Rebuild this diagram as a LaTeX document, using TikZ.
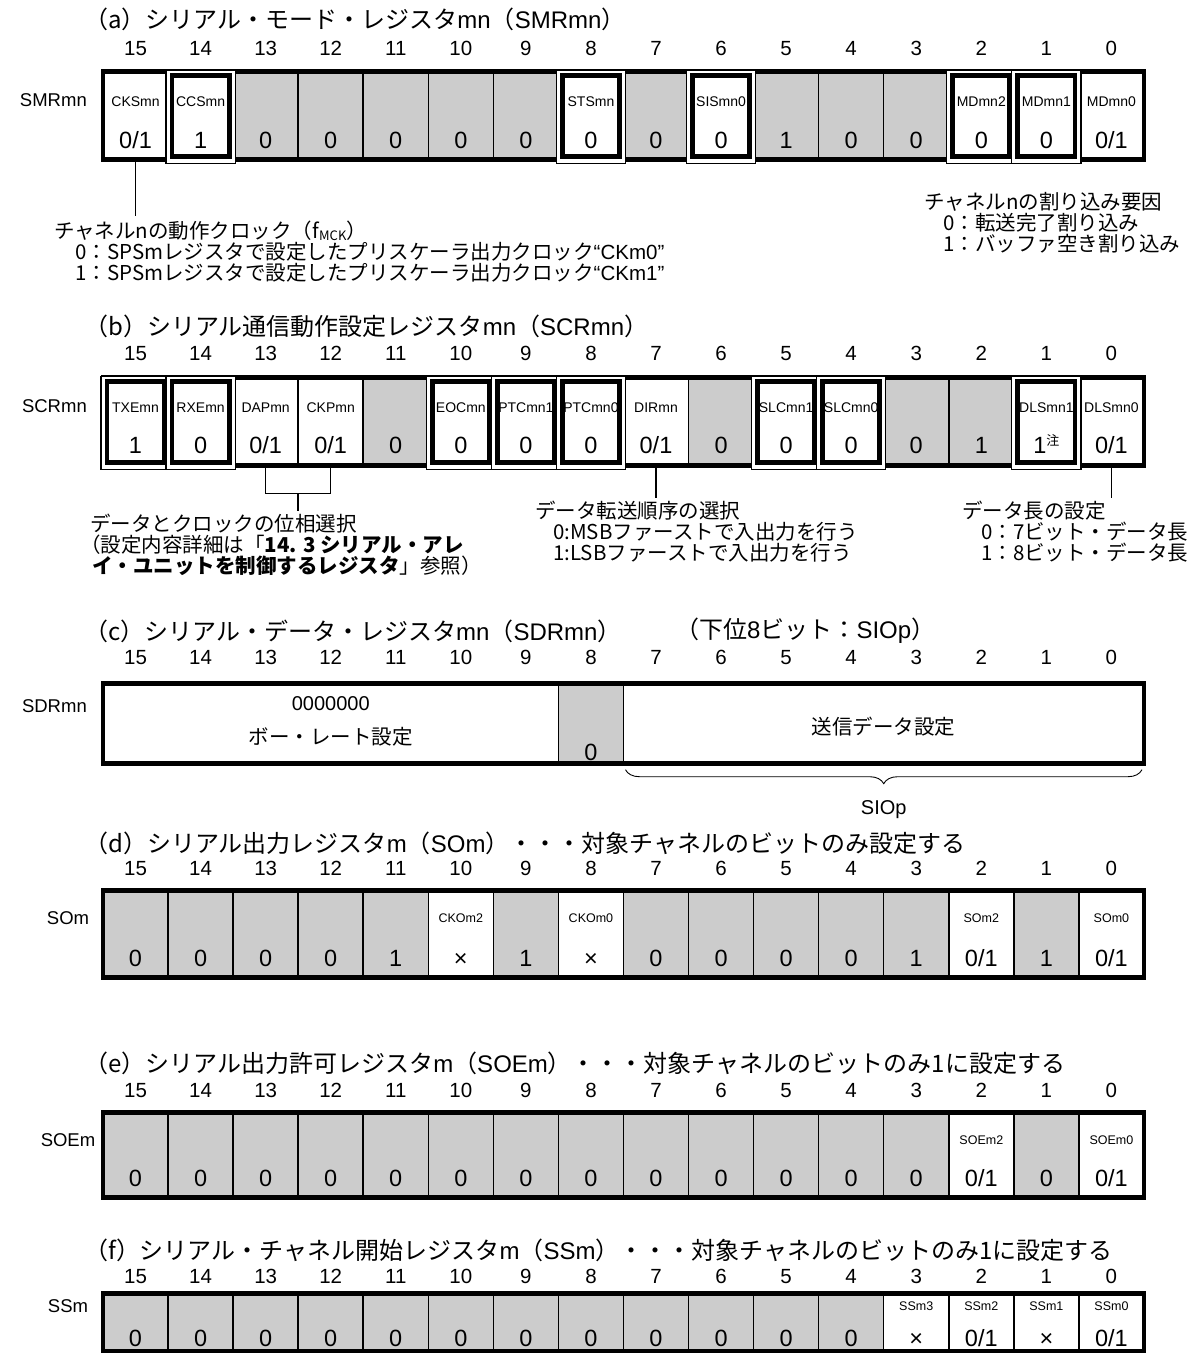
\documentclass[tikz,border=0pt]{standalone}
\usepackage{fontspec}
\setmainfont{Noto Sans CJK JP}
\newfontfamily\arialf{Liberation Sans}
\usetikzlibrary{positioning, calc, decorations.pathreplacing}
\definecolor{shade}{RGB}{204,204,204}
\pgfdeclarelayer{bg}
\pgfdeclarelayer{mid}
\pgfsetlayers{bg,mid,main}
\newcommand{\zo}{0/1}
\newcommand{\tms}{×}
\newcommand{\ltn}[1]{{\arialf #1}}
\newcommand{\onenote}{1\raisebox{8pt}{\rmfamily\fontsize{13}{13}\selectfont 注}}
% bit numbers above a register
\newcommand{\bitrow}[2]{%
  \foreach \bit in {0,...,15}
    \node[bitno] (n#1\bit) at ({103+(15.5-\bit)*65.06}, #2) {\bit};}
% one register: prefix, top, height, name style, name dy, value dy, cells
\newcommand{\regrow}[7]{%
  \pgfmathsetmacro\cellh{#3-4.6}
  \foreach \bit/\fc/\fx/\nm/\vl in {#7}{%
    \pgfmathsetmacro\xl{103+(15-\bit)*65.06}
    \begin{pgfonlayer}{bg}
      \node[regcell, fill=\fc, minimum height=\cellh pt] (#1\bit) at (\xl, #2+2.3) {};
    \end{pgfonlayer}
    \ifnum\fx=1\relax
      \begin{pgfonlayer}{mid}
        \draw[fixout] ($(#1\bit.north west)+(-2,-1)$) rectangle ($(#1\bit.south east)+(2,3.5)$);
        \draw[fixin] ($(#1\bit.north west)+(4,4.5)$) rectangle ($(#1\bit.south east)+(-4,-3)$);
      \end{pgfonlayer}
    \fi
    \node[#4] at ($(#1\bit.north)+(0,#5-2.3)$) {\nm};
    \node[val] at ($(#1\bit.north)+(0,#6-2.3)$) {\vl};
  }%
  \begin{pgfonlayer}{bg}
    \draw[regframe] (#115.north west) rectangle (#10.south east);
  \end{pgfonlayer}}

\begin{document}
\begin{tikzpicture}[x=1pt, y=-1pt,
  ttl/.style={anchor=west, inner sep=0pt, font=\fontsize{24}{28}\selectfont},
  note/.style={anchor=west, inner sep=0pt, font=\fontsize{20.5}{24}\selectfont},
  bitno/.style={inner sep=0pt, text height=14.7pt, text depth=0pt,
                font=\arialf\fontsize{20.5}{24}\selectfont},
  reglbl/.style={inner sep=0pt, text height=13.3pt, text depth=0pt,
                 font=\arialf\fontsize{18.5}{22}\selectfont},
  regcell/.style={draw, line width=1.5pt, minimum width=65.06pt, inner sep=0pt,
                  outer sep=0pt, anchor=north west},
  nm/.style={inner sep=0pt, text height=10.1pt, text depth=0pt,
             font=\arialf\fontsize{14}{17}\selectfont},
  nms/.style={inner sep=0pt, text height=9pt, text depth=0pt,
              font=\arialf\fontsize{12.5}{15}\selectfont},
  val/.style={inner sep=0pt, text height=16.8pt, text depth=0pt,
              font=\arialf\fontsize{23.5}{28}\selectfont},
  regframe/.style={line width=4.7pt},
  fixout/.style={fill=white, line width=1.2pt},
  fixin/.style={line width=4.8pt},
  lead/.style={line width=1.5pt},
  brc/.style={decorate, decoration={brace, mirror, amplitude=14pt}, line width=0.9pt}]

  \useasboundingbox (0,0) rectangle (1198,1353);

  % (a) SMRmn
  \node[ttl] (ttla) at (84,19) {（a）シリアル・モード・レジスタ\ltn{mn}（\ltn{SMRmn}）};
  \bitrow{a}{48}
  \node[reglbl, anchor=east] (smr) at (87,100) {SMRmn};
  \regrow{a}{69}{93}{nm}{32}{71}{15/white/0/CKSmn/\zo, 14/white/1/CCSmn/1,
    13/shade/0//0, 12/shade/0//0, 11/shade/0//0, 10/shade/0//0, 9/shade/0//0,
    8/white/1/STSmn/0, 7/shade/0//0, 6/white/1/SISmn0/0, 5/shade/0//1,
    4/shade/0//0, 3/shade/0//0, 2/white/1/MDmn2/0, 1/white/1/MDmn1/0,
    0/white/0/MDmn0/\zo}

  \node[note] (cks) at (54,231) {チャネルnの動作クロック（f\raisebox{-1.5pt}{\fontsize{13}{13}\selectfont MCK}）};
  \node[note] (cks0) at (75,252) {0：SPSmレジスタで設定したプリスケーラ出力クロック{\arialf “CKm0”}};
  \node[note] (cks1) at (75,273) {1：SPSmレジスタで設定したプリスケーラ出力クロック{\arialf “CKm1”}};
  \draw[lead] (a15.south) -- ($(a15.south |- cks.north)+(0,-5)$);

  \node[note] (mdi) at (924,202) {チャネルnの割り込み要因};
  \node[note] (mdi0) at (943,223) {0：転送完了割り込み};
  \node[note] (mdi1) at (943,244) {1：バッファ空き割り込み};

  % (b) SCRmn
  \node[ttl] (ttlb) at (84,326) {（b）シリアル通信動作設定レジスタ\ltn{mn}（\ltn{SCRmn}）};
  \bitrow{b}{353}
  \node[reglbl, anchor=east] (scr) at (87,406) {SCRmn};
  \regrow{b}{375}{93}{nm}{32}{70}{15/white/1/TXEmn/1, 14/white/1/RXEmn/0,
    13/white/0/DAPmn/\zo, 12/white/0/CKPmn/\zo, 11/shade/0//0,
    10/white/1/EOCmn/0, 9/white/1/PTCmn1/0, 8/white/1/PTCmn0/0,
    7/white/0/DIRmn/\zo, 6/shade/0//0, 5/white/1/SLCmn1/0, 4/white/1/SLCmn0/0,
    3/shade/0//0, 2/shade/0//1, 1/white/1/DLSmn1/\onenote, 0/white/0/DLSmn0/\zo}

  \node[note] (dap) at (90,524) {データとクロックの位相選択};
  \node[note] (dap1) at (80,545) {（設定内容詳細は「\textbf{14. 3 シリアル・アレ}};
  \node[note] (dap2) at (92,566) {\textbf{イ・ユニットを制御するレジスタ}」参照）};
  \coordinate (phsel) at ($(b13.south)!0.5!(b12.south)+(0,28)$);
  \draw[lead] (b13.south) |- (phsel) -| (b12.south);
  \draw[lead] (phsel) -- ($(phsel |- dap.north)+(0,-3)$);

  \node[note] (dir) at (535,511) {データ転送順序の選択};
  \node[note] (dir0) at (553,532) {0:MSBファーストで入出力を行う};
  \node[note] (dir1) at (553,553) {1:LSBファーストで入出力を行う};
  \draw[lead] (b7.south) -- ($(b7.south |- dir.north)+(0,-3)$);

  \node[note] (dls) at (962,511) {データ長の設定};
  \node[note] (dls0) at (981,532) {0：7ビット・データ長};
  \node[note] (dls1) at (981,553) {1：8ビット・データ長};
  \draw[lead] (b0.south) -- ($(b0.south |- dls.north)+(0,-3)$);

  % (c) SDRmn
  \node[ttl] (ttlc) at (84,631) {（c）シリアル・データ・レジスタ\ltn{mn}（\ltn{SDRmn}）};
  \node[ttl] (ttlc2) at (675,631) {（下位\ltn{8}ビット：\ltn{SIOp}）};
  \bitrow{c}{657}
  \node[reglbl, anchor=east] (sdr) at (87,706) {SDRmn};
  \begin{pgfonlayer}{bg}
    \node[regcell, fill=white, minimum width=455.42pt, minimum height=80.4pt] (cbaud) at (103,683.3) {};
    \node[regcell, fill=shade, minimum height=80.4pt] (c8) at (558.42,683.3) {};
    \node[regcell, fill=white, minimum width=520.48pt, minimum height=80.4pt] (cdata) at (623.48,683.3) {};
    \draw[regframe] (cbaud.north west) rectangle (cdata.south east);
  \end{pgfonlayer}
  \node[reglbl, text height=14.3pt, font=\arialf\fontsize{20}{24}\selectfont] (baudv) at ($(cbaud.center)+(0,-20)$) {0000000};
  \node[note, anchor=center] (baud) at ($(cbaud.center)+(0,13)$) {ボー・レート設定};
  \node[val] (c8v) at ($(c8.north)+(0,68.7)$) {0};
  \node[note, anchor=center] (txd) at ($(cdata.center)+(0,3)$) {送信データ設定};
  \draw[brc] ($(cdata.south west)+(2,6)$) -- ($(cdata.south east)+(-2,6)$);
  \node[reglbl, text height=14.3pt, font=\arialf\fontsize{20}{24}\selectfont] (siop) at ($(cdata.south)+(0,44)$) {SIOp};

  % (d) SOm
  \node[ttl] (ttld) at (84,843) {（d）シリアル出力レジスタ\ltn{m}（\ltn{SOm}）・・・対象チャネルのビットのみ設定する};
  \bitrow{d}{868}
  \node[reglbl] (som) at (68,918) {SOm};
  \regrow{d}{888}{92}{nms}{30}{70}{15/shade/0//0, 14/shade/0//0, 13/shade/0//0,
    12/shade/0//0, 11/shade/0//1, 10/white/0/CKOm2/\tms, 9/shade/0//1,
    8/white/0/CKOm0/\tms, 7/shade/0//0, 6/shade/0//0, 5/shade/0//0,
    4/shade/0//0, 3/shade/0//1, 2/white/0/SOm2/\zo, 1/shade/0//1,
    0/white/0/SOm0/\zo}

  % (e) SOEm
  \node[ttl] (ttle) at (84,1063) {（e）シリアル出力許可レジスタ\ltn{m}（\ltn{SOEm}）・・・対象チャネルのビットのみ1に設定する};
  \bitrow{e}{1090}
  \node[reglbl] (soe) at (68,1140) {SOEm};
  \regrow{e}{1110}{90}{nms}{30}{68}{15/shade/0//0, 14/shade/0//0, 13/shade/0//0,
    12/shade/0//0, 11/shade/0//0, 10/shade/0//0, 9/shade/0//0, 8/shade/0//0,
    7/shade/0//0, 6/shade/0//0, 5/shade/0//0, 4/shade/0//0, 3/shade/0//0,
    2/white/0/SOEm2/\zo, 1/shade/0//0, 0/white/0/SOEm0/\zo}

  % (f) SSm
  \node[ttl] (ttlf) at (84,1250) {（f）シリアル・チャネル開始レジスタ\ltn{m}（\ltn{SSm}）・・・対象チャネルのビットのみ1に設定する};
  \bitrow{f}{1276}
  \node[reglbl] (ssm) at (68,1306) {SSm};
  \regrow{f}{1291}{63}{nms}{15}{47}{15/shade/0//0, 14/shade/0//0, 13/shade/0//0,
    12/shade/0//0, 11/shade/0//0, 10/shade/0//0, 9/shade/0//0, 8/shade/0//0,
    7/shade/0//0, 6/shade/0//0, 5/shade/0//0, 4/shade/0//0,
    3/white/0/SSm3/\tms, 2/white/0/SSm2/\zo, 1/white/0/SSm1/\tms,
    0/white/0/SSm0/\zo}
\end{tikzpicture}
\end{document}
